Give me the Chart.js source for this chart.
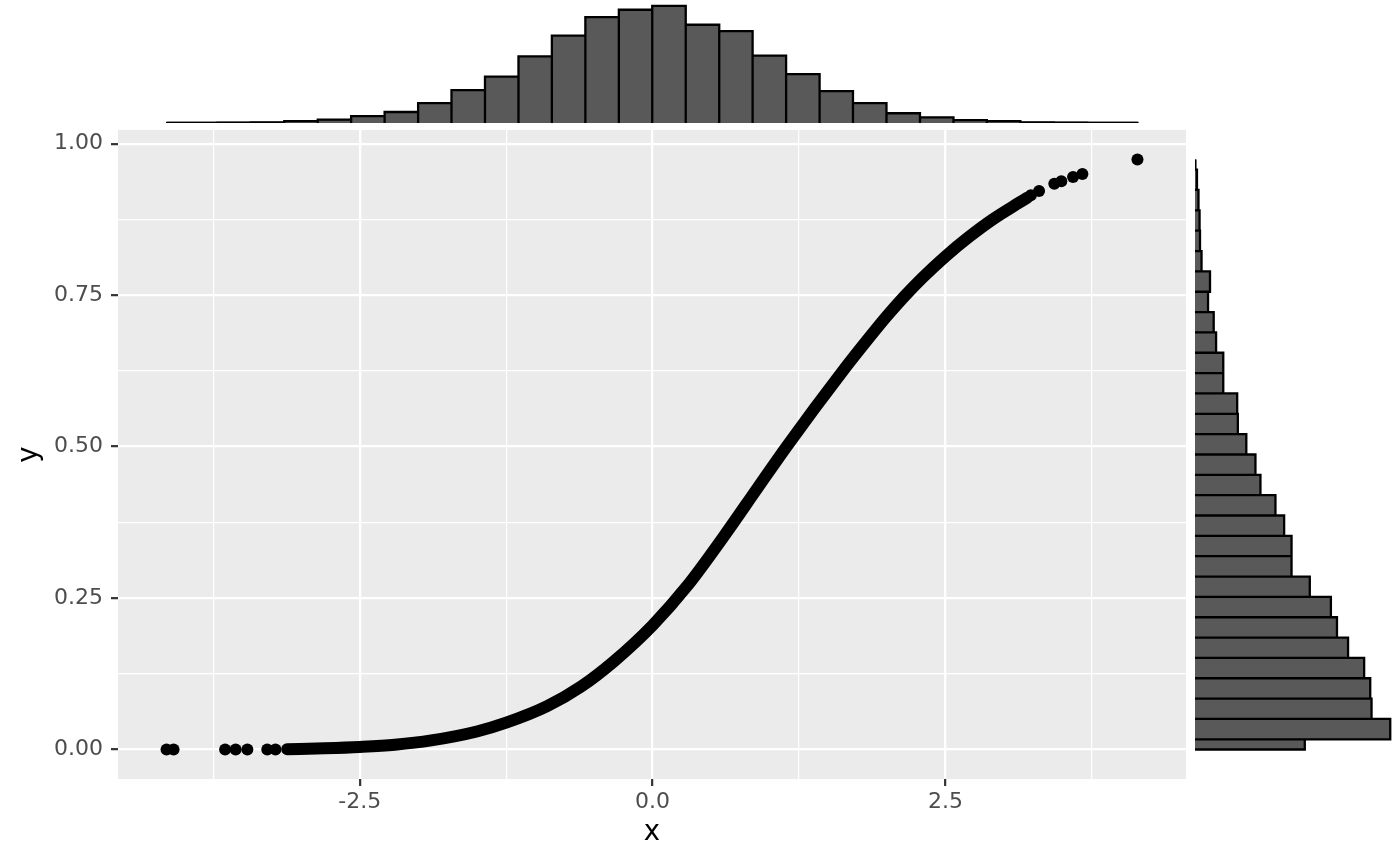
<!DOCTYPE html>
<html>
<head>
<meta charset="utf-8">
<title>x / y scatter with marginal histograms</title>
<script src="https://cdn.jsdelivr.net/npm/chart.js@4.4.1/dist/chart.umd.min.js"></script>
<style>
  html, body { margin: 0; padding: 0; background: #ffffff; }
  #wrap { position: relative; width: 1400px; height: 866px; overflow: hidden; }
  #wrap canvas { position: absolute; }
</style>
</head>
<body>
<div id="wrap">
  <canvas id="mainChart" width="1400" height="866" style="left:0;top:0"></canvas>
  <canvas id="topHist" width="1068" height="127" style="left:118px;top:0"></canvas>
  <canvas id="rightHist" width="210" height="649" style="left:1190px;top:130px"></canvas>
</div>
<script>
// ---- dense band of points (read along the centre of the band) ----
const curveX = [-3.12, -2.8, -2.5, -2.2, -1.89, -1.5, -1.25, -0.9, -0.61, -0.33, 0, 0.3,
  0.6, 0.9, 1.142, 1.625, 1.85, 2.0, 2.15, 2.3, 2.5, 2.7, 2.9, 3.13, 3.2];
const curveY = [0.0005, 0.0021, 0.0043, 0.0079, 0.015, 0.0298, 0.0443, 0.0716, 0.104, 0.1456, 0.205, 0.271,
  0.3496, 0.4327, 0.4995, 0.625, 0.680, 0.7153, 0.748, 0.778, 0.814, 0.846, 0.8746, 0.9027, 0.911];

// ---- isolated points in both tails ----
const tailX = [-4.15, -4.09, -3.65, -3.56, -3.46, -3.29, -3.22, 3.23, 3.30, 3.43, 3.49, 3.59, 3.67, 4.14];
const tailY = [0, 0, 0, 0, 0, 0, 0, 0.915, 0.922, 0.934, 0.938, 0.945, 0.950, 0.974];

// ---- marginal histogram of x (30 bins, half bins at both ends) ----
const xEdges = [-4.145, -4.002, -3.716, -3.431, -3.145, -2.859, -2.574, -2.288, -2.002, -1.717, -1.431,
  -1.145, -0.860, -0.574, -0.288, -0.003, 0.283, 0.569, 0.854, 1.140, 1.426,
  1.711, 1.997, 2.283, 2.569, 2.854, 3.140, 3.426, 3.711, 3.997, 4.140];
const xCounts = [2, 0, 3, 5, 18, 32, 66, 107, 194, 320, 452, 649, 850, 1030, 1102,
  1140, 956, 894, 656, 475, 310, 194, 95, 55, 28, 18, 5, 4, 0, 1];

// ---- marginal histogram of y ----
const yEdges = [0, 0.0168, 0.0504, 0.0840, 0.1176, 0.1511, 0.1847, 0.2183, 0.2519, 0.2855, 0.3191,
  0.3527, 0.3863, 0.4199, 0.4534, 0.4870, 0.5206, 0.5542, 0.5878, 0.6214, 0.6550,
  0.6886, 0.7222, 0.7557, 0.7893, 0.8229, 0.8565, 0.8901, 0.9237, 0.9572, 0.974];
const yCounts = [505, 898, 812, 806, 778, 704, 653, 625, 528, 444, 444, 410, 370, 301, 278,
  236, 197, 194, 130, 130, 97, 86, 60, 69, 30, 23, 21, 16, 9, 3];

// ---- ticks ----
const xMajorTicks = [-2.5, 0, 2.5];
const xMajorLabels = ['-2.5', '0.0', '2.5'];
const xMinorTicks = [-3.75, -1.25, 1.25, 3.75];
const yMajorTicks = [0, 0.25, 0.5, 0.75, 1];
const yMajorLabels = ['0.00', '0.25', '0.50', '0.75', '1.00'];
const yMinorTicks = [0.125, 0.375, 0.625, 0.875];

// ggplot style 5% expansion of the data range
const allX = curveX.concat(tailX);
const allY = curveY.concat(tailY);
const xMinD = Math.min(...allX), xMaxD = Math.max(...allX);
const yMinD = Math.min(...allY), yMaxD = Math.max(...allY);
const xLo = xMinD - 0.05 * (xMaxD - xMinD), xHi = xMaxD + 0.05 * (xMaxD - xMinD);
const yLo = yMinD - 0.05 * (yMaxD - yMinD), yHi = yMaxD + 0.05 * (yMaxD - yMinD);

const FONT = 'DejaVu Sans';

const panelBg = {
  id: 'panelBg',
  beforeDraw(chart) {
    const { ctx, chartArea: a } = chart;
    ctx.save();
    ctx.fillStyle = '#EBEBEB';
    ctx.fillRect(a.left, a.top, a.right - a.left, a.bottom - a.top);
    ctx.restore();
  }
};

function ggAxis(major, labels, minor, lo, hi, title, isX) {
  const isMajor = v => major.indexOf(v) >= 0;
  return {
    type: 'linear',
    min: lo,
    max: hi,
    afterBuildTicks: s => {
      s.ticks = major.concat(minor).sort((a, b) => a - b).map(v => ({ value: v }));
    },
    afterFit: s => {
      if (isX) s.height = 87; else s.width = 118;
    },
    border: { display: false },
    grid: {
      color: '#ffffff',
      lineWidth: c => (c.tick && isMajor(c.tick.value)) ? 2.3 : 1.2,
      tickColor: c => (c.tick && isMajor(c.tick.value)) ? '#333333' : 'rgba(0,0,0,0)',
      tickWidth: 2.2,
      tickLength: 7
    },
    ticks: {
      autoSkip: false,
      maxRotation: 0,
      color: '#4D4D4D',
      font: { family: FONT, size: 22 },
      padding: isX ? 3 : 8,
      callback: v => {
        const i = major.indexOf(v);
        return i >= 0 ? labels[i] : '';
      }
    },
    title: {
      display: true,
      text: title,
      color: '#000000',
      font: { family: FONT, size: 27.5 },
      padding: isX ? { top: 0, bottom: 17 } : { top: 13, bottom: 0 }
    }
  };
}

new Chart(document.getElementById('mainChart'), {
  type: 'scatter',
  data: {
    datasets: [
      {
        type: 'line',
        data: curveX.map((x, i) => ({ x: x, y: curveY[i] })),
        borderColor: '#000000',
        borderWidth: 12,
        borderCapStyle: 'round',
        borderJoinStyle: 'round',
        cubicInterpolationMode: 'monotone',
        pointRadius: 0,
        fill: false
      },
      {
        data: tailX.map((x, i) => ({ x: x, y: tailY[i] })),
        backgroundColor: '#000000',
        borderWidth: 0,
        pointRadius: 6
      }
    ]
  },
  options: {
    responsive: false,
    animation: false,
    events: [],
    layout: { padding: { left: 0, right: 214, top: 130, bottom: 0 } },
    plugins: { legend: { display: false }, tooltip: { enabled: false } },
    scales: {
      x: ggAxis(xMajorTicks, xMajorLabels, xMinorTicks, xLo, xHi, 'x', true),
      y: ggAxis(yMajorTicks, yMajorLabels, yMinorTicks, yLo, yHi, 'y', false)
    }
  },
  plugins: [panelBg]
});

// outline of the bars, traced through the chart's own scales
const topPath = [];
for (let i = 0; i < xCounts.length; i++) {
  topPath.push({ x: xEdges[i], y: 0 }, { x: xEdges[i], y: xCounts[i] },
               { x: xEdges[i + 1], y: xCounts[i] }, { x: xEdges[i + 1], y: 0 });
}
const rightPath = [];
for (let i = 0; i < yCounts.length; i++) {
  rightPath.push({ x: 0, y: yEdges[i] }, { x: yCounts[i], y: yEdges[i] },
                 { x: yCounts[i], y: yEdges[i + 1] }, { x: 0, y: yEdges[i + 1] });
}

const histStyle = {
  fill: 'origin',
  backgroundColor: '#595959',
  borderColor: '#000000',
  borderWidth: 2.3,
  pointRadius: 0,
  borderJoinStyle: 'miter'
};
const baseStyle = { borderColor: '#000000', borderWidth: 2.3, pointRadius: 0, fill: false };

new Chart(document.getElementById('topHist'), {
  type: 'line',
  data: {
    datasets: [
      Object.assign({ data: topPath }, histStyle),
      Object.assign({ data: [{ x: xEdges[0], y: 0 }, { x: xEdges[xEdges.length - 1], y: 0 }] }, baseStyle)
    ]
  },
  options: {
    responsive: false,
    animation: false,
    events: [],
    layout: { padding: { bottom: 4 } },
    plugins: { legend: { display: false }, tooltip: { enabled: false } },
    scales: {
      x: { type: 'linear', display: false, min: xLo, max: xHi },
      y: { type: 'linear', display: false, min: 0, max: Math.max(...xCounts) * 1.05 }
    }
  }
});

new Chart(document.getElementById('rightHist'), {
  type: 'line',
  data: {
    datasets: [
      Object.assign({ data: rightPath }, histStyle),
      Object.assign({ data: [{ x: 0, y: yEdges[0] }, { x: 0, y: yEdges[yEdges.length - 1] }] }, baseStyle)
    ]
  },
  options: {
    indexAxis: 'y',
    responsive: false,
    animation: false,
    events: [],
    layout: { padding: { left: 5 } },
    plugins: { legend: { display: false }, tooltip: { enabled: false } },
    scales: {
      x: { type: 'linear', display: false, min: 0, max: Math.max(...yCounts) * 1.05 },
      y: { type: 'linear', display: false, min: yLo, max: yHi }
    }
  }
});
</script>
</body>
</html>
